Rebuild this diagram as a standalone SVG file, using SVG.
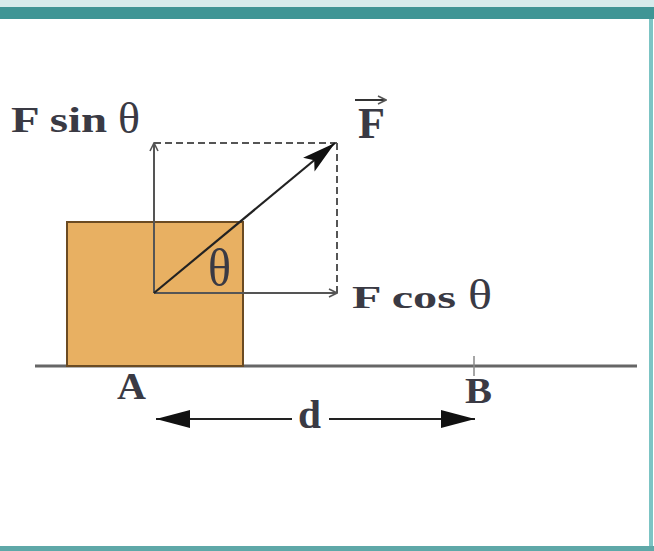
<svg xmlns="http://www.w3.org/2000/svg" width="654" height="551" viewBox="0 0 654 551">
<style>
.lbl{font-family:"Liberation Serif","Times New Roman",serif;font-weight:bold;fill:#3a3a44}
.th{font-family:"Liberation Serif","Times New Roman",serif;fill:#3a3a44}
.vec{stroke:#555;stroke-width:2;fill:none}
.dash{stroke:#555;stroke-width:2;fill:none;stroke-dasharray:7 4}
</style>
<defs>
<marker id="open" viewBox="0 0 10 10" refX="9" refY="5" markerWidth="10" markerHeight="10" markerUnits="userSpaceOnUse" orient="auto">
<path d="M1,1 L9,5 L1,9" fill="none" stroke="#555" stroke-width="1.6"/>
</marker>
<marker id="solid" viewBox="0 0 34 18" refX="34" refY="9" markerWidth="34" markerHeight="18" markerUnits="userSpaceOnUse" orient="auto">
<path d="M0,0 L34,9 L0,18 L7,9 Z" fill="#111"/>
</marker>
<marker id="big" viewBox="0 0 34 18" refX="34" refY="9" markerWidth="34" markerHeight="18" markerUnits="userSpaceOnUse" orient="auto">
<path d="M0,0 L34,9 L0,18 Z" fill="#111"/>
</marker>
</defs>
<rect x="0" y="0" width="654" height="551" fill="#ffffff"/>
<rect x="0" y="0" width="654" height="8" fill="#d6ecec"/>
<rect x="0" y="7" width="654" height="12" fill="#3f9595"/>
<rect x="649" y="19" width="4" height="532" fill="#7cc4c4"/>
<rect x="0" y="546" width="654" height="5" fill="#5fa8a8"/>

<g id="ground">
<line x1="35" y1="366" x2="637" y2="366" stroke="#666" stroke-width="3"/>
<line x1="474" y1="356" x2="474" y2="376" stroke="#888" stroke-width="1.5"/>
</g>
<g id="block">
<rect x="67" y="222" width="176" height="144" fill="#e8b062" stroke="#6b4b22" stroke-width="2"/>
</g>

<g id="connectors">
<line class="dash" x1="154" y1="143" x2="337" y2="143"/>
<line class="dash" x1="337" y1="143" x2="337" y2="293" stroke-dasharray="4 4"/>
<line class="vec" x1="154" y1="293" x2="154" y2="143" marker-end="url(#open)"/>
<line class="vec" x1="154" y1="293" x2="337" y2="293" marker-end="url(#open)"/>
<line stroke="#222" stroke-width="2.2" x1="154" y1="293" x2="335" y2="143" marker-end="url(#solid)"/>
<line stroke="#222" stroke-width="2" x1="190" y1="419" x2="292" y2="419"/>
<line stroke="#222" stroke-width="2" x1="329" y1="419" x2="475" y2="419" marker-end="url(#big)"/>
<line stroke="#222" stroke-width="2" x1="292" y1="419" x2="156" y2="419" marker-end="url(#big)"/>
</g>

<g id="labels">
<text class="lbl" x="11" y="132" font-size="35" textLength="96" lengthAdjust="spacingAndGlyphs">F sin</text>
<text class="th" x="118" y="133" font-size="45" textLength="22" lengthAdjust="spacingAndGlyphs">θ</text>
<text class="lbl" x="358" y="138" font-size="44" textLength="27" lengthAdjust="spacingAndGlyphs">F</text>
<line x1="355" y1="100" x2="386" y2="100" stroke="#333" stroke-width="2" marker-end="url(#open)"/>
<text class="th" x="208" y="285" font-size="52" textLength="23" lengthAdjust="spacingAndGlyphs">θ</text>
<text class="lbl" x="352" y="308" font-size="32" textLength="104" lengthAdjust="spacingAndGlyphs">F cos</text>
<text class="th" x="468" y="309" font-size="42" textLength="24" lengthAdjust="spacingAndGlyphs">θ</text>
<text class="lbl" x="117" y="399" font-size="37" textLength="29" lengthAdjust="spacingAndGlyphs">A</text>
<text class="lbl" x="465" y="403" font-size="36" textLength="27" lengthAdjust="spacingAndGlyphs">B</text>
<text class="lbl" x="298" y="428" font-size="40" textLength="23" lengthAdjust="spacingAndGlyphs">d</text>
</g>
</svg>
